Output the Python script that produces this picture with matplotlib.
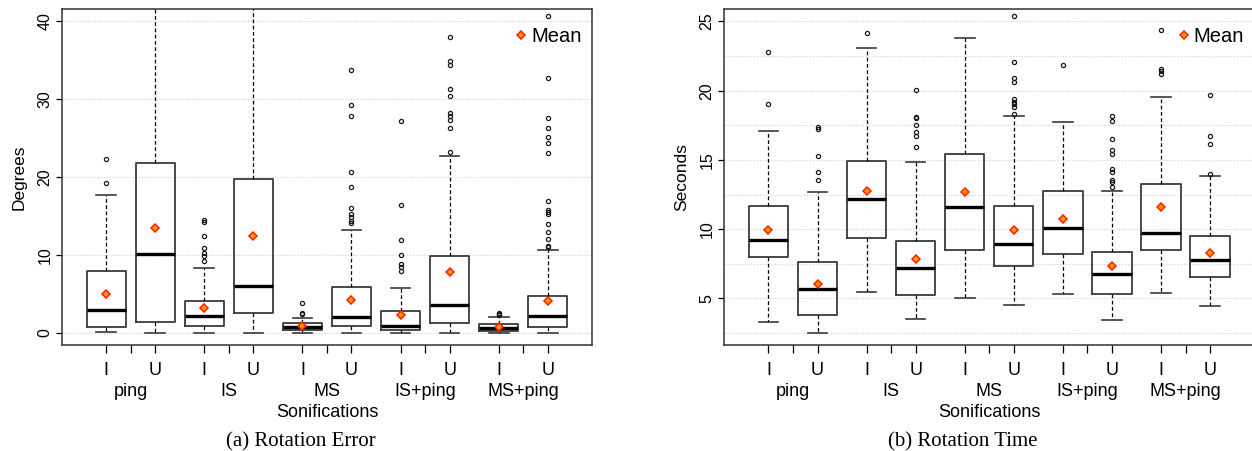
import matplotlib
matplotlib.use("Agg")
import matplotlib.pyplot as plt
from matplotlib.ticker import MultipleLocator

plt.rcParams['font.family'] = ['Liberation Sans', 'DejaVu Sans']

# boxes: ping I, ping U, IS I, IS U, MS I, MS U, IS+ping I, IS+ping U, MS+ping I, MS+ping U
conditions = ["I", "U"] * 5
groups = ["ping", "IS", "MS", "IS+ping", "MS+ping"]

# (a) rotation error, degrees
err_q1 = [0.77, 1.45, 0.9, 2.5, 0.38, 0.86, 0.43, 1.28, 0.3, 0.8]
err_med = [2.9, 10.1, 2.14, 6.0, 0.8, 2.1, 0.94, 3.6, 0.6, 2.18]
err_q3 = [7.9, 21.8, 4.15, 19.7, 1.24, 5.86, 2.78, 9.87, 1.1, 4.74]
err_lo = [0.1, 0.0, 0.0, 0.0, 0.0, 0.0, 0.0, 0.0, 0.0, 0.0]
err_hi = [17.7, 48.0, 8.3, 47.0, 1.9, 13.25, 5.7, 22.65, 2.1, 10.6]
err_mean = [5.0, 13.5, 3.25, 12.4, 0.85, 4.2, 2.3, 7.8, 0.77, 4.1]
err_out = [
    [19.2, 22.3],
    [],
    [9.2, 9.8, 10.2, 10.9, 12.4, 14.2, 14.5],
    [],
    [2.4, 2.5, 3.8],
    [14.1, 14.4, 14.9, 15.3, 16.0, 18.7, 20.6, 27.8, 29.2, 33.7],
    [7.95, 8.46, 8.8, 10.0, 11.9, 16.4, 27.2],
    [23.2, 26.2, 27.3, 27.8, 28.2, 30.3, 31.2, 34.3, 34.9, 37.9],
    [2.3, 2.4, 2.6],
    [11.0, 11.2, 12.0, 12.9, 14.0, 15.2, 15.5, 15.8, 16.9, 23.0, 24.3, 25.1,
     26.2, 27.6, 32.6, 40.6],
]

# (b) rotation time, seconds
time_q1 = [7.96, 3.8, 9.38, 5.22, 8.47, 7.31, 8.18, 5.31, 8.47, 6.52]
time_med = [9.19, 5.65, 12.17, 7.19, 11.62, 8.92, 10.08, 6.78, 9.74, 7.75]
time_q3 = [11.69, 7.65, 14.92, 9.14, 15.45, 11.65, 12.77, 8.37, 13.23, 9.48]
time_lo = [3.29, 2.52, 5.44, 3.49, 5.0, 4.5, 5.34, 3.46, 5.36, 4.47]
time_hi = [17.1, 12.68, 23.05, 14.85, 23.82, 18.19, 17.73, 12.77, 19.56, 13.81]
time_mean = [9.96, 6.06, 12.75, 7.82, 12.68, 9.94, 10.75, 7.31, 11.62, 8.3]
time_out = [
    [19.05, 22.8],
    [13.52, 14.12, 15.28, 17.23, 17.37],
    [24.18],
    [15.9, 16.72, 17.0, 17.5, 18.0, 18.1, 20.06],
    [],
    [18.33, 18.8, 19.03, 19.2, 19.37, 20.6, 20.9, 22.1, 25.4],
    [21.87],
    [13.02, 13.4, 13.57, 14.1, 14.36, 15.45, 15.73, 16.53, 17.83, 18.19],
    [21.2, 21.44, 21.6, 24.4],
    [13.98, 16.12, 16.7, 19.66],
]


def make_stats(q1, med, q3, lo, hi, mean, out):
    stats = []
    for i in range(len(q1)):
        stats.append(dict(q1=q1[i], med=med[i], q3=q3[i], whislo=lo[i],
                          whishi=hi[i], mean=mean[i], fliers=out[i]))
    return stats


def draw_panel(ax, stats, ylabel, ylim, major, minor_grid):
    pos = list(range(1, len(stats) + 1))
    bp = ax.bxp(stats, positions=pos, widths=0.8, capwidths=0.4,
                showmeans=True, patch_artist=False,
                boxprops=dict(color='#3a3a3a', linewidth=1.3),
                medianprops=dict(color='black', linewidth=2.4),
                whiskerprops=dict(color='black', linewidth=0.9,
                                  linestyle=(0, (3, 2))),
                capprops=dict(color='#3a3a3a', linewidth=1.2),
                flierprops=dict(marker='o', markerfacecolor='none',
                                markeredgecolor='#1a1a1a', markersize=3.0,
                                markeredgewidth=0.9),
                meanprops=dict(marker='D', markerfacecolor='#FF9A00',
                               markeredgecolor='#FF2000', markersize=3.8,
                               markeredgewidth=1.1))
    ax.set_xlim(0.1, 10.9)
    ax.set_ylim(*ylim)
    ax.yaxis.set_major_locator(MultipleLocator(major))
    ax.yaxis.set_minor_locator(MultipleLocator(minor_grid))
    ax.set_axisbelow(True)
    ax.grid(axis='y', which='both', color='#cfcfcf', linestyle=':',
            linewidth=0.8)
    ax.tick_params(axis='y', which='minor', length=0)
    ax.tick_params(axis='y', which='major', length=4, width=0.9,
                   labelsize=11.5, labelrotation=90, pad=3)
    for lab in ax.get_yticklabels():
        lab.set_va('center')

    ax.set_xticks(pos)
    ax.set_xticklabels(conditions)
    mids = [p + 0.5 for p in pos[::2]]
    ax.set_xticks(mids, minor=True)
    ax.set_xticklabels(groups, minor=True)
    ax.tick_params(axis='x', which='both', length=6, width=0.9,
                   labelsize=13)
    ax.tick_params(axis='x', which='major', pad=6)
    ax.tick_params(axis='x', which='minor', pad=21.5)
    ax.set_xlabel("Sonifications", fontsize=13, labelpad=2.5)
    ax.set_ylabel(ylabel, fontsize=12.5)

    for s in ax.spines.values():
        s.set_color('#333333')
        s.set_linewidth(1.1)

    ax.legend([bp['means'][0]], ['Mean'], loc='upper right',
              bbox_to_anchor=(1.0, 0.975), frameon=False, fontsize=14.5,
              handlelength=0.5, handletextpad=0.25, borderaxespad=0.2,
              borderpad=0.3)


fig = plt.figure(figsize=(12.52, 4.51), dpi=100)
w = 0.4233
ax1 = fig.add_axes([0.0495, 0.235, w, 0.745])
ax2 = fig.add_axes([0.5785, 0.235, w, 0.745])

draw_panel(ax1, make_stats(err_q1, err_med, err_q3, err_lo, err_hi, err_mean, err_out),
           "Degrees", (-1.54, 41.5), 10, 10)
draw_panel(ax2, make_stats(time_q1, time_med, time_q3, time_lo, time_hi, time_mean, time_out),
           "Seconds", (1.63, 25.9), 5, 2.5)
ax1.yaxis.set_label_coords(-0.066, 0.5)
ax2.yaxis.set_label_coords(-0.067, 0.5)

fig.text(301 / 1252, 0.01, "(a) Rotation Error", ha='center', va='baseline',
         fontsize=15, family='Liberation Serif')
fig.text(963 / 1252, 0.01, "(b) Rotation Time", ha='center', va='baseline',
         fontsize=15, family='Liberation Serif')

fig.savefig("out.png", dpi=100)
